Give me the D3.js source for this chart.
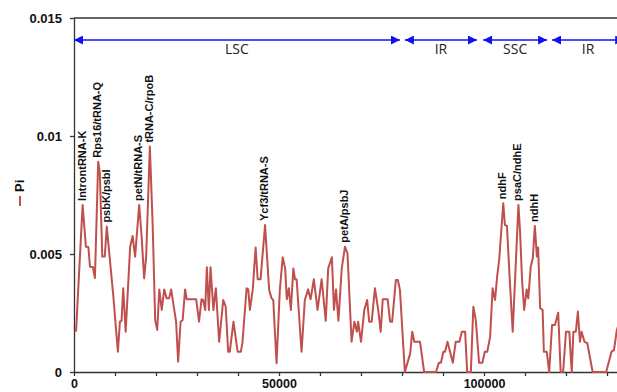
<!DOCTYPE html>
<html>
<head>
<meta charset="utf-8">
<script src="https://cdn.jsdelivr.net/npm/d3@7"></script>
<style>
  body { margin: 0; background: #fff; }
  svg { display: block; font-family: "Liberation Sans", Arial, sans-serif; }
</style>
</head>
<body>
<div id="chart"></div>
<script>
// sliding-window nucleotide diversity along the chloroplast genome
const position = [500, 2100, 2900, 3500, 3900, 4600, 5100, 5900, 6300, 6900,
  7500, 8000, 8600, 9600, 10700, 11200, 11600, 12000, 12600, 13700,
  14300, 14900, 15900, 16500, 17100, 17600, 18500, 19200, 19800, 20300,
  20800, 21400, 22000, 22600, 23200, 23700, 24400, 24900, 25400, 26000,
  26500, 27100, 27500, 29800, 30500, 31100, 31500, 32000, 32400, 32900,
  33300, 34000, 34600, 35400, 36400, 37000, 37600, 38000, 38900, 39900,
  40700, 41100, 42100, 42500, 42900, 43600, 44300, 44800, 45500, 46600,
  47600, 48200, 48600, 49400, 50200, 50900, 51500, 51900, 52400, 52900,
  53500, 53900, 54300, 55500, 56300, 57100, 57700, 58500, 59400, 60400,
  61400, 62000, 62900, 63400, 63900, 64500, 65300, 66100, 66700, 67700,
  68400, 69000, 69300, 70000, 70800, 71500, 72000, 72600, 73400, 74200,
  74800, 75300, 76500, 77100, 77600, 78500, 79000, 79500, 80700, 82000,
  82500, 83000, 84400, 85400, 88300, 89000, 89500, 90100, 90500, 91100,
  92400, 93100, 94000, 94600, 95400, 95900, 96800, 97400, 98000, 98800,
  99600, 100200, 100800, 101500, 102100, 102700, 103200, 103700, 104700, 105100,
  105600, 106200, 107000, 108400, 108800, 109300, 109800, 110400, 110800, 111400,
  111900, 112400, 112900, 113200, 113700, 114300, 114600, 115300, 115900, 116600,
  117300, 118100, 118700, 119300, 120000, 120800, 121400, 121800, 122400, 122900,
  123400, 123800, 124500, 125200, 126500, 129800, 131100, 131700, 132400, 133200];

const pi = [0.00171, 0.00708, 0.00531, 0.0053, 0.00446, 0.00445, 0.00398, 0.00891, 0.00843, 0.00489,
  0.00489, 0.00616, 0.00504, 0.00319, 0.00086, 0.00213, 0.00217, 0.00355, 0.00171, 0.00531,
  0.00576, 0.00489, 0.00708, 0.00573, 0.00397, 0.00489, 0.00955, 0.00616, 0.0022, 0.00178,
  0.0035, 0.00263, 0.0035, 0.00312, 0.00312, 0.0035, 0.0027, 0.00213, 0.00044, 0.00213,
  0.0022, 0.0035, 0.00308, 0.00308, 0.00213, 0.00308, 0.00305, 0.00263, 0.00444, 0.00263,
  0.00444, 0.00263, 0.00355, 0.00128, 0.00305, 0.00277, 0.00086, 0.00086, 0.00213, 0.00086,
  0.00086, 0.00128, 0.00355, 0.0035, 0.00263, 0.0035, 0.00528, 0.00393, 0.00393, 0.00623,
  0.00347, 0.00312, 0.00305, 0.00037, 0.00347, 0.00486, 0.00439, 0.00308, 0.00355, 0.00263,
  0.00439, 0.00393, 0.00393, 0.00086, 0.00305, 0.0035, 0.00308, 0.00393, 0.00263, 0.00393,
  0.00217, 0.00439, 0.00486, 0.00263, 0.0035, 0.00217, 0.00439, 0.00531, 0.00503, 0.00128,
  0.00213, 0.00171, 0.00213, 0.00128, 0.00263, 0.00305, 0.00213, 0.00213, 0.00355, 0.00263,
  0.00171, 0.00308, 0.00308, 0.00213, 0.00213, 0.0039, 0.0039, 0.00347, 0, 0.00079,
  0.00171, 0.00128, 0.00128, 0, 0, 0.00039, 0.00039, 0.00086, 0.00086, 0.00128,
  0.00039, 0.00128, 0.00128, 0.00171, 0.00171, 0, 0, 0.00277, 0.0022, 0.00039,
  0.00039, 0.00086, 0.00086, 0.0015, 0.00355, 0.00305, 0.00404, 0.00475, 0.00715, 0.00623,
  0.00619, 0.00418, 0.00171, 0.00708, 0.00594, 0.00383, 0.00263, 0.0035, 0.00312, 0.00446,
  0.00482, 0.00619, 0.00489, 0.00528, 0.0027, 0.00263, 0.00086, 0.00086, 0, 0.00199,
  0.00199, 0.00251, 0, 0, 0.00171, 0.00171, 0, 0.00171, 0.00171, 0.00256,
  0.00128, 0.00171, 0.00128, 0.00122, 0, 0, 0.00086, 0.00093, 0.00178, 0.0022];

// highly variable regions marked on the peaks
const peakNames = ['IntrontRNA-K', 'Rps16/tRNA-Q', 'psbK/psbI', 'petN/tRNA-S', 'tRNA-C/rpoB',
  'Ycf3/tRNA-S', 'petA/psbJ', 'ndhF', 'psaC/ndhE', 'ndhH'];
const peakPositions = [2100, 5900, 8000, 15900, 18500, 46600, 66100, 104700, 108400, 112400];

// quadripartite structure
const regionNames = ['LSC', 'IR', 'SSC', 'IR'];
const regionStart = [0, 80700, 99800, 116600];
const regionEnd = [79500, 98300, 115400, 134200];

const yTicks = [0, 0.005, 0.01, 0.015];
const yTickLabels = ['0', '0.005', '0.01', '0.015'];
const xTicks = d3.range(0, 140000, 10000);
const xTickLabels = { 0: '0', 50000: '50000', 100000: '100000' };

const width = 617, height = 392;
const margin = { top: 18, right: 0, bottom: 20, left: 74 };
const lineColor = '#c0504d', arrowColor = '#1010f0', axisColor = '#333';

const svg = d3.select('#chart').append('svg')
  .attr('width', width)
  .attr('height', height);

svg.append('rect').attr('width', width).attr('height', height).attr('fill', '#fff');

const x = d3.scaleLinear()
  .domain([0, 132440])
  .range([margin.left, width - margin.right]);

const y = d3.scaleLinear()
  .domain([0, 0.015])
  .range([height - margin.bottom, margin.top]);

svg.append('defs').append('clipPath').attr('id', 'plot-clip')
  .append('rect')
  .attr('x', margin.left).attr('y', 0)
  .attr('width', width - margin.left).attr('height', height);

// top frame line
svg.append('line')
  .attr('x1', x(0)).attr('x2', width)
  .attr('y1', y(0.015)).attr('y2', y(0.015))
  .attr('stroke', axisColor).attr('stroke-width', 1.3);

// y axis
const yAxis = svg.append('g')
  .attr('transform', `translate(${margin.left},0)`)
  .call(d3.axisLeft(y).tickValues(yTicks).tickFormat((d, i) => yTickLabels[i])
    .tickSize(4).tickSizeOuter(0).tickPadding(8));

// x axis
const xAxis = svg.append('g')
  .attr('transform', `translate(0,${height - margin.bottom})`)
  .call(d3.axisBottom(x).tickValues(xTicks).tickFormat(d => xTickLabels[d] || '')
    .tickSize(4).tickSizeOuter(0).tickPadding(3));

[xAxis, yAxis].forEach(a => {
  a.select('.domain').attr('stroke', axisColor).attr('stroke-width', 1.3);
  a.selectAll('.tick line').attr('stroke', axisColor).attr('stroke-width', 1.3);
  a.selectAll('.tick text')
    .attr('fill', '#111')
    .attr('font-size', 13)
    .attr('font-weight', 'bold')
    .attr('font-family', '"Liberation Sans", Arial, sans-serif');
});
xAxis.selectAll('.tick text').attr('font-size', 12.5);

// Pi line
const data = position.map((p, i) => ({ pos: p, pi: pi[i] }));
const line = d3.line().x(d => x(d.pos)).y(d => y(d.pi));

svg.append('path')
  .datum(data)
  .attr('clip-path', 'url(#plot-clip)')
  .attr('fill', 'none')
  .attr('stroke', lineColor)
  .attr('stroke-width', 2)
  .attr('stroke-linejoin', 'round')
  .attr('d', line);

// peak labels
peakNames.forEach((name, i) => {
  const idx = position.indexOf(peakPositions[i]);
  const px = x(position[idx]) + 3, py = y(pi[idx]) - 4;
  svg.append('text')
    .attr('transform', `translate(${px},${py}) rotate(-90)`)
    .attr('font-size', 11)
    .attr('font-weight', 'bold')
    .attr('fill', '#111')
    .text(name);
});

// region arrows
const defs = svg.select('defs');
defs.append('marker').attr('id', 'arrow-end')
  .attr('viewBox', '0 0 10 10').attr('refX', 10).attr('refY', 5)
  .attr('markerWidth', 6).attr('markerHeight', 6).attr('markerUnits', 'strokeWidth')
  .attr('orient', 'auto')
  .append('path').attr('d', 'M0,0L10,5L0,10Z').attr('fill', arrowColor);
defs.append('marker').attr('id', 'arrow-start')
  .attr('viewBox', '0 0 10 10').attr('refX', 0).attr('refY', 5)
  .attr('markerWidth', 6).attr('markerHeight', 6).attr('markerUnits', 'strokeWidth')
  .attr('orient', 'auto')
  .append('path').attr('d', 'M10,0L0,5L10,10Z').attr('fill', arrowColor);

const arrowY = 40;
const regions = svg.append('g').attr('clip-path', 'url(#plot-clip)');
regionNames.forEach((name, i) => {
  regions.append('line')
    .attr('x1', x(regionStart[i])).attr('x2', x(regionEnd[i]))
    .attr('y1', arrowY).attr('y2', arrowY)
    .attr('stroke', arrowColor).attr('stroke-width', 1.5)
    .attr('marker-start', 'url(#arrow-start)')
    .attr('marker-end', 'url(#arrow-end)');
  regions.append('text')
    .attr('x', x((regionStart[i] + regionEnd[i]) / 2))
    .attr('y', arrowY + 14)
    .attr('text-anchor', 'middle')
    .attr('font-size', 14)
    .attr('fill', '#222')
    .attr('font-family', '"Open Sans", "Liberation Sans", sans-serif')
    .text(name);
});

// legend
const legend = svg.append('g').attr('transform', 'translate(24,206) rotate(-90)');
legend.append('line')
  .attr('x1', 0).attr('x2', 10).attr('y1', -4).attr('y2', -4)
  .attr('stroke', lineColor).attr('stroke-width', 2);
legend.append('text')
  .attr('x', 14).attr('y', 0)
  .attr('font-size', 13)
  .attr('font-weight', 'bold')
  .attr('fill', '#111')
  .text('Pi');
</script>
</body>
</html>
